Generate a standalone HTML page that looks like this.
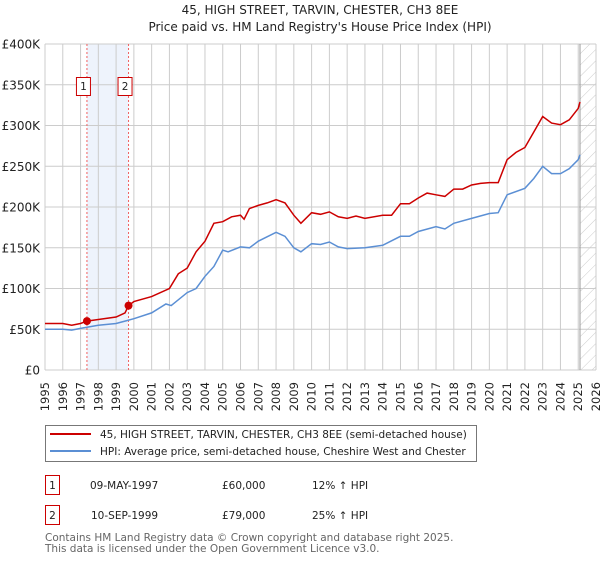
<!DOCTYPE html>
<html><head><meta charset="utf-8"><style>
body{margin:0;background:#fff;font-family:"DejaVu Sans","Liberation Sans",sans-serif;}
svg text{font-family:"DejaVu Sans","Liberation Sans",sans-serif;}
</style></head><body>
<svg id="c" width="600" height="560" xmlns="http://www.w3.org/2000/svg">
<defs><pattern id="hatch" width="8" height="8" patternUnits="userSpaceOnUse" patternTransform="rotate(45)"><line x1="0" y1="0" x2="0" y2="8" stroke="#ccc" stroke-width="1"/></pattern></defs>
<text x="320" y="14" text-anchor="middle" font-size="12" fill="#222">45, HIGH STREET, TARVIN, CHESTER, CH3 8EE</text>
<text x="320" y="31" text-anchor="middle" font-size="12" fill="#222">Price paid vs. HM Land Registry's House Price Index (HPI)</text>
<g id="grid"></g><g id="series"></g><g id="axes"></g>
<g>
<rect x="45.5" y="425.5" width="431" height="36" fill="#fff" stroke="#777"/>
<line x1="50" y1="434" x2="91" y2="434" stroke="#cc0000" stroke-width="2"/>
<text x="100" y="438" font-size="10.5" fill="#222">45, HIGH STREET, TARVIN, CHESTER, CH3 8EE (semi-detached house)</text>
<line x1="50" y1="451" x2="91" y2="451" stroke="#5b8fd4" stroke-width="2"/>
<text x="100" y="455" font-size="10.5" fill="#222">HPI: Average price, semi-detached house, Cheshire West and Chester</text>
</g>
<g font-size="10.5" fill="#222">
<rect x="45.5" y="475.5" width="14" height="19" fill="#fff" stroke="#cc0000"/><text x="52.5" y="489" text-anchor="middle">1</text>
<text x="90" y="489">09-MAY-1997</text><text x="222" y="489">£60,000</text><text x="312" y="489">12% ↑ HPI</text>
<rect x="45.5" y="505.5" width="14" height="19" fill="#fff" stroke="#cc0000"/><text x="52.5" y="519" text-anchor="middle">2</text>
<text x="91" y="519">10-SEP-1999</text><text x="222" y="519">£79,000</text><text x="312" y="519">25% ↑ HPI</text>
</g>
<text x="45" y="541" font-size="10.5" fill="#666">Contains HM Land Registry data © Crown copyright and database right 2025.</text>
<text x="45" y="552" font-size="10.5" fill="#666">This data is licensed under the Open Government Licence v3.0.</text>
</svg>
<script>
const yearTicks=[1995,1996,1997,1998,1999,2000,2001,2002,2003,2004,2005,2006,2007,2008,2009,2010,2011,2012,2013,2014,2015,2016,2017,2018,2019,2020,2021,2022,2023,2024,2025,2026];
const valueTicks=[0,50000,100000,150000,200000,250000,300000,350000,400000];
const valueLabels=["£0","£50K","£100K","£150K","£200K","£250K","£300K","£350K","£400K"];
const hpiYears=[1995,1996,1996.5,1997,1998,1999,2000,2001,2001.8,2002.1,2003,2003.5,2004,2004.5,2005,2005.3,2006,2006.5,2007,2008,2008.5,2009,2009.4,2010,2010.5,2011,2011.5,2012,2013,2014,2015,2015.5,2016,2017,2017.5,2018,2019,2020,2020.5,2021,2022,2022.5,2023,2023.5,2024,2024.5,2025,2025.1];
const hpiValues=[50000,50000,49000,51000,55000,57000,63000,70000,81000,79000,95000,100000,115000,127000,147000,145000,151000,150000,158000,169000,164000,150000,145000,155000,154000,157000,151000,149000,150000,153000,164000,164000,170000,176000,173000,180000,186000,192000,193000,215000,223000,235000,250000,241000,241000,247000,258000,264000];
const priceYears=[1995,1996,1996.5,1997,1997.36,1998,1999,1999.5,1999.7,2000,2001,2002,2002.5,2003,2003.5,2004,2004.5,2005,2005.5,2006,2006.2,2006.5,2007,2007.5,2008,2008.5,2009,2009.4,2010,2010.5,2011,2011.5,2012,2012.5,2013,2014,2014.5,2015,2015.5,2016,2016.5,2017,2017.5,2018,2018.5,2019,2019.5,2020,2020.5,2021,2021.5,2022,2022.5,2023,2023.5,2024,2024.5,2025,2025.1];
const priceValues=[57000,57000,55000,57000,60000,62000,65000,70000,79000,84000,90000,100000,118000,125000,145000,158000,180000,182000,188000,190000,185000,198000,202000,205000,209000,205000,190000,180000,193000,191000,194000,188000,186000,189000,186000,190000,190000,204000,204000,211000,217000,215000,213000,222000,222000,227000,229000,230000,230000,258000,267000,273000,292000,311000,303000,301000,307000,321000,329000];
const saleYears=[1997.36,1999.7];
const saleValues=[60000,79000];
const saleLabels=["1","2"];
const NS="http://www.w3.org/2000/svg";
const X0=45,X1=596,Y0=370,Y1=44;
const xs=y=>X0+(y-1995)/(2026-1995)*(X1-X0);
const ys=v=>Y0-v/400000*(Y0-Y1);
function mk(tag,attrs,parent){const e=document.createElementNS(NS,tag);for(const k in attrs)e.setAttribute(k,attrs[k]);parent.appendChild(e);return e;}
const grid=document.getElementById('grid'),ser=document.getElementById('series'),ax=document.getElementById('axes');
let band=mk('rect',{x:xs(saleYears[0]),y:Y1,width:xs(saleYears[1])-xs(saleYears[0]),height:Y0-Y1,fill:'#eef3fc'},grid);


let hz=mk('rect',{x:xs(2025.1),y:Y1,width:X1-xs(2025.1),height:Y0-Y1,fill:'url(#hatch)'},grid);


yearTicks.forEach(y=>{
 let l=mk('line',{x1:xs(y),x2:xs(y),y1:Y1,y2:Y0,stroke:'#ccc','stroke-width':1},grid);
 
 
 let t=mk('text',{x:0,y:0,transform:`translate(${xs(y)+4},382) rotate(-90)`,'text-anchor':'end','font-size':'11.5',fill:'#222'},ax);
 t.textContent=y;
 
 
});
valueTicks.forEach((v,i)=>{
 let l=mk('line',{x1:X0,x2:X1,y1:ys(v),y2:ys(v),stroke:'#ccc','stroke-width':1},grid);
 
 
 let t=mk('text',{x:40,y:ys(v)+4.5,'text-anchor':'end','font-size':'12',fill:'#222'},ax);
 t.textContent=valueLabels[i];
 
 
});
let nowl=mk('line',{x1:xs(2025.1),x2:xs(2025.1),y1:Y1,y2:Y0,stroke:'#999','stroke-width':1},grid);


saleYears.forEach((y,i)=>{
 let l=mk('line',{x1:xs(y),x2:xs(y),y1:Y1,y2:Y0,stroke:'#f06060','stroke-width':1,'stroke-dasharray':'2,2'},grid);
 
 
});
function path(xa,va,color,name){
 const d=xa.map((y,i)=>(i?'L':'M')+xs(y).toFixed(1)+','+ys(va[i]).toFixed(1)).join('');
 let p=mk('path',{d:d,fill:'none',stroke:color,'stroke-width':1.5},ser);
 
 
}
path(hpiYears,hpiValues,'#5b8fd4','hpi-line');
path(priceYears,priceValues,'#cc0000','price-line');
saleYears.forEach((y,i)=>{
 let c=mk('circle',{cx:xs(y),cy:ys(saleValues[i]),r:4,fill:'#cc0000'},ser);
 
 
 let bx=xs(y)-7-4;
 let r=mk('rect',{x:bx+0.5,y:77.5,width:14,height:18,fill:'#fff',stroke:'#cc0000'},ser);
 
 
 let t=mk('text',{x:bx+7.5,y:90,'text-anchor':'middle','font-size':'10.5',fill:'#222'},ser);
 t.textContent=saleLabels[i];
 
 
});
</script>
</body></html>
